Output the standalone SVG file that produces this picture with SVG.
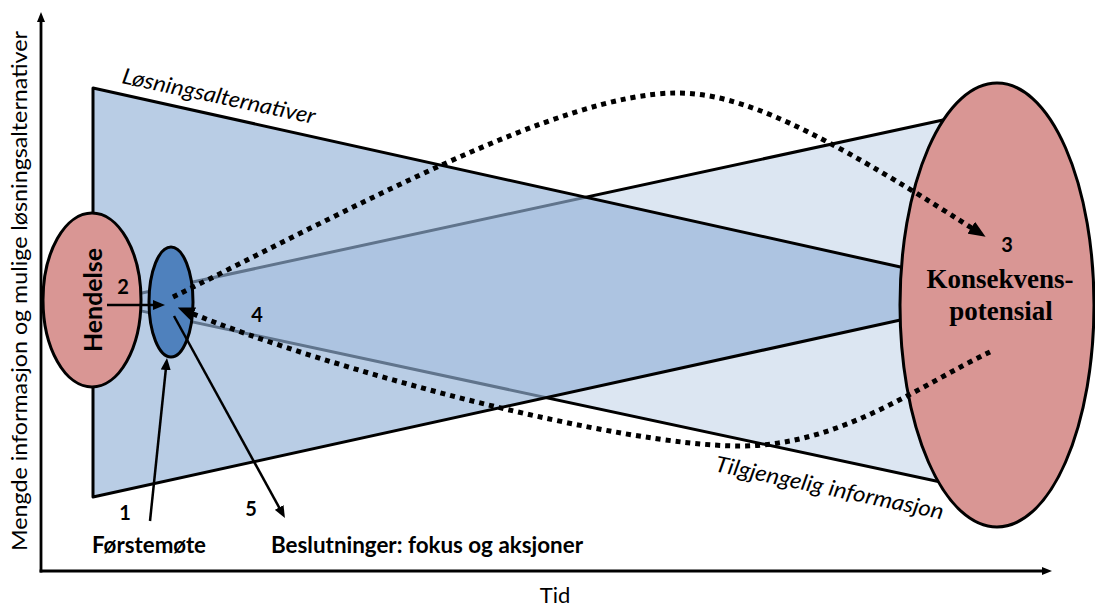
<svg xmlns="http://www.w3.org/2000/svg" width="1095" height="606" viewBox="0 0 1095 606">
<style>
.lbl{font-family:Lato,"Open Sans","Liberation Sans",sans-serif;fill:#000}
.b{font-weight:bold}
.it{font-style:italic}
.serif{font-family:"Liberation Serif","Times New Roman",serif;font-weight:bold;fill:#000}
.shape{stroke:#000;stroke-width:3;stroke-linejoin:round}
.dot{fill:none;stroke:#000;stroke-width:5;stroke-dasharray:5 5}
.arr{fill:none;stroke:#000;stroke-width:2.5}
.axis{fill:none;stroke:#000;stroke-width:2.8}
</style>
<defs>
<marker id="ah" markerUnits="userSpaceOnUse" viewBox="0 0 12 10" markerWidth="12" markerHeight="10" refX="8" refY="5" orient="auto"><path d="M0,0 L12,5 L0,10 z" fill="#000"/></marker>
<marker id="ahDot" markerUnits="userSpaceOnUse" viewBox="0 0 17 14" markerWidth="17" markerHeight="14" refX="8" refY="7" orient="auto"><path d="M0,0 L17,7 L0,14 z" fill="#000"/></marker>
<marker id="ahAxis" markerUnits="userSpaceOnUse" viewBox="0 0 10 8" markerWidth="10" markerHeight="8" refX="4" refY="4" orient="auto"><path d="M0,0 L10,4 L0,8 z" fill="#000"/></marker>
</defs>

<g id="axes">
<path class="axis" d="M41 572.4 V18" marker-end="url(#ahAxis)"/>
<path class="axis" d="M39.6 571 H1046" marker-end="url(#ahAxis)"/>
<text class="lbl" transform="translate(27,551) rotate(-90)" font-size="22" textLength="520" lengthAdjust="spacingAndGlyphs">Mengde informasjon og mulige løsningsalternativer</text>
<text class="lbl" x="555" y="603" font-size="22" text-anchor="middle">Tid</text>
</g>

<g id="tilgjengelig-informasjon">
<polygon class="shape" points="135,294.5 950,118.5 950,484 135,309.6" fill="#dce6f2"/>
<text class="lbl it" transform="translate(714,471) rotate(12)" font-size="22" textLength="233" lengthAdjust="spacingAndGlyphs">Tilgjengelig informasjon</text>
</g>

<g id="losningsalternativer">
<polygon class="shape" points="93,88 905,268 905,319 93,497" fill="#94b2d7" fill-opacity="0.65"/>
<text class="lbl it" transform="translate(121,83) rotate(12)" font-size="22" textLength="197" lengthAdjust="spacingAndGlyphs">Løsningsalternativer</text>
</g>

<g id="hendelse">
<ellipse class="shape" cx="92" cy="300" rx="49" ry="87" fill="#d99694"/>
<text class="lbl b" transform="translate(102,300) rotate(-90)" font-size="24" text-anchor="middle" textLength="104" lengthAdjust="spacingAndGlyphs">Hendelse</text>
</g>

<g id="forstemote">
<ellipse class="shape" cx="171" cy="302" rx="22" ry="55" fill="#4f81bd"/>
</g>

<g id="konsekvenspotensial">
<ellipse class="shape" cx="997" cy="305" rx="97" ry="222" fill="#d99694"/>
<text class="serif" x="1000" y="288" font-size="27" text-anchor="middle">Konsekvens-</text>
<text class="serif" x="1001" y="320" font-size="27" text-anchor="middle">potensial</text>
</g>

<g id="connectors">
<path class="dot" d="M173 297 C350 210, 560 93, 677 93 C740 93, 816 128, 978 232" marker-end="url(#ahDot)"/>
<path class="dot" d="M990 352 C920 385, 840 446, 740 446 C620 446, 335 372, 186 311" marker-end="url(#ahDot)"/>
<path class="arr" d="M107 305 H161" marker-end="url(#ah)"/>
<path class="arr" d="M150 521 L166.6 362" marker-end="url(#ah)"/>
<path class="arr" d="M174 316 L283 514.5" marker-end="url(#ah)"/>
</g>

<g id="labels">
<text class="lbl b" x="123" y="294" font-size="20" text-anchor="middle">2</text>
<text class="lbl b" x="257" y="322" font-size="20" text-anchor="middle">4</text>
<text class="lbl b" x="1007" y="252" font-size="20" text-anchor="middle">3</text>
<text class="lbl b" x="125" y="520" font-size="20" text-anchor="middle">1</text>
<text class="lbl b" x="251" y="516" font-size="20" text-anchor="middle">5</text>
<text class="lbl b" x="92" y="553" font-size="22" textLength="114" lengthAdjust="spacingAndGlyphs">Førstemøte</text>
<text class="lbl b" x="271" y="553" font-size="22" textLength="312" lengthAdjust="spacingAndGlyphs">Beslutninger: fokus og aksjoner</text>
</g>
</svg>
